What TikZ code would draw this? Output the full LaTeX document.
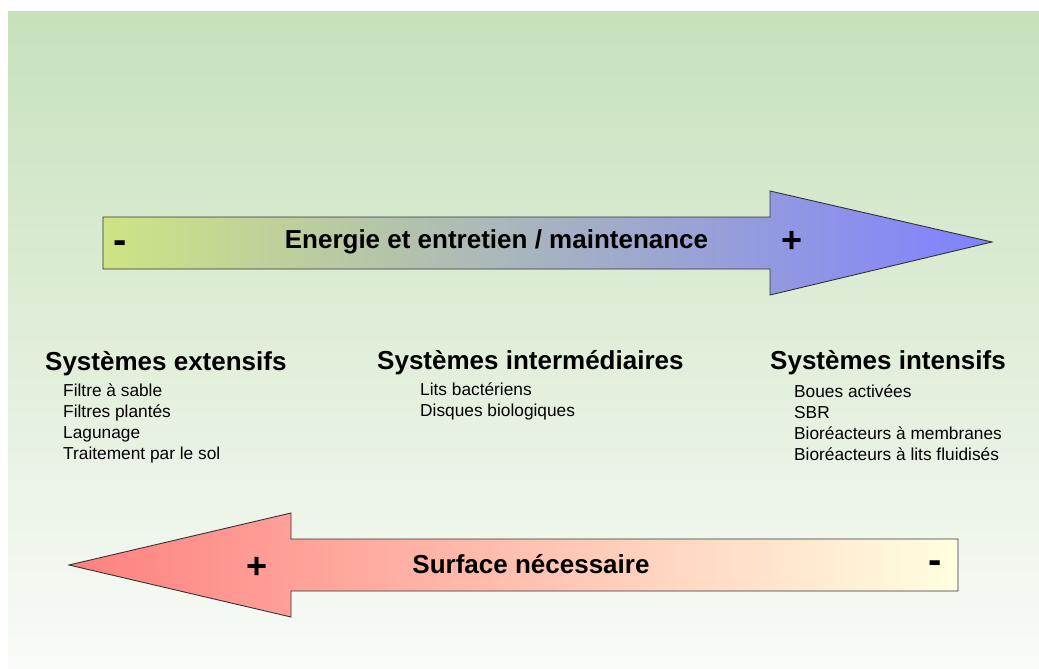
\documentclass[tikz,border=0pt]{standalone}
\usepackage{fontspec}
\setmainfont{Liberation Sans}
\definecolor{bgtop}{RGB}{199,225,187}
\definecolor{bgbot}{RGB}{249,251,248}
\definecolor{eleft}{RGB}{205,228,131}
\definecolor{emid}{RGB}{175,195,195}
\definecolor{eright}{RGB}{128,128,255}
\definecolor{sleft}{RGB}{255,128,128}
\definecolor{smid}{RGB}{255,195,178}
\definecolor{sright}{RGB}{255,255,224}
\tikzset{
  arrowshape/.style={draw=black!80, line width=0.9pt, line join=miter},
  bigtitle/.style={inner sep=0pt, anchor=base, font=\fontsize{26}{30}\selectfont\bfseries},
  grouptitle/.style={inner sep=0pt, anchor=base west, font=\fontsize{26}{30}\selectfont\bfseries},
  itemtext/.style={inner sep=0pt, anchor=base west, font=\fontsize{17.3}{21}\selectfont},
  signtext/.style={inner sep=0pt, anchor=center, font=\fontsize{36}{40}\selectfont\bfseries},
  dashtext/.style={inner sep=0pt, anchor=center, font=\fontsize{40}{44}\selectfont\bfseries},
}
\begin{document}
\begin{tikzpicture}[x=1pt,y=-1pt]
\useasboundingbox (0,0) rectangle (1039,669);
% background
\shade[top color=bgtop, bottom color=bgbot] (8,12) rectangle (1039,669);
% top arrow
\shade[arrowshape, left color=eleft, middle color=emid, right color=eright]
  (103,217) -- (770,217) -- (770,191) -- (992,242) -- (770,295) -- (770,269) -- (103,269) -- cycle;
% bottom arrow
\shade[arrowshape, left color=sleft, middle color=smid, right color=sright]
  (958,539) -- (291,539) -- (291,513) -- (69,565) -- (291,617) -- (291,591) -- (958,591) -- cycle;
% arrow labels
\node[bigtitle] (energie) at (496.5,248) {Energie et entretien / maintenance};
\node[dashtext] (eminus) at (120,247) {-};
\node[signtext] (eplus) at (792,242) {+};
\node[bigtitle] (surface) at (531,573) {Surface nécessaire};
\node[signtext] (splus) at (257,568) {+};
\node[dashtext] (sminus) at (935,567) {-};
% groups
\node[grouptitle] (ext) at (45,370) {Systèmes extensifs};
\node[itemtext] (ext1) at (63,396) {Filtre à sable};
\node[itemtext] (ext2) at (63,417) {Filtres plantés};
\node[itemtext] (ext3) at (63,438) {Lagunage};
\node[itemtext] (ext4) at (63,459) {Traitement par le sol};
\node[grouptitle] (inter) at (377,369) {Systèmes intermédiaires};
\node[itemtext] (inter1) at (420,395) {Lits bactériens};
\node[itemtext] (inter2) at (420,416) {Disques biologiques};
\node[grouptitle] (int) at (770,369) {Systèmes intensifs};
\node[itemtext] (int1) at (794,397) {Boues activées};
\node[itemtext] (int2) at (794,418) {SBR};
\node[itemtext] (int3) at (794,439) {Bioréacteurs à membranes};
\node[itemtext] (int4) at (794,460) {Bioréacteurs à lits fluidisés};
\end{tikzpicture}
\end{document}
